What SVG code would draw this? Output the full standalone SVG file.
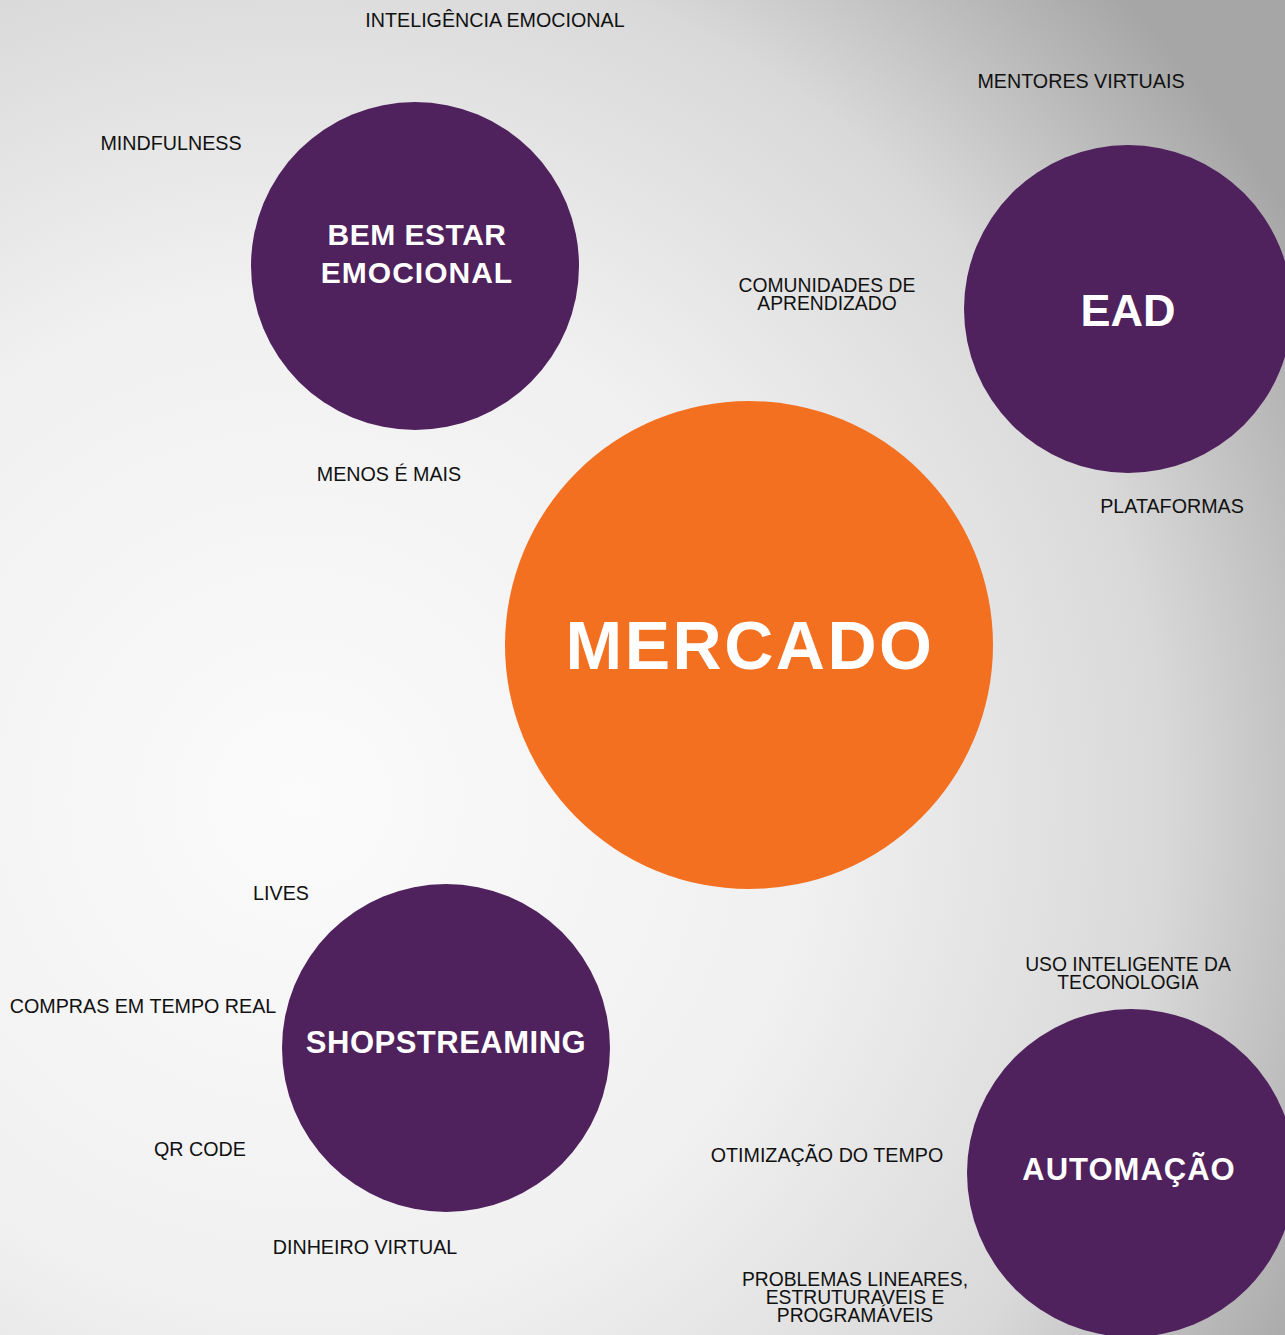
<svg xmlns="http://www.w3.org/2000/svg" width="1285" height="1335" viewBox="0 0 1285 1335">
<defs>
<radialGradient id="bg" gradientUnits="userSpaceOnUse" cx="300" cy="800" r="1150">
<stop offset="0" stop-color="#fbfbfb"/>
<stop offset="0.45" stop-color="#f0f0f0"/>
<stop offset="0.75" stop-color="#d9d9d9"/>
<stop offset="1" stop-color="#a6a6a6"/>
</radialGradient>
<style>
.hub{fill:#f47021}
.topic{fill:#4f215d}
.title{font-family:"Liberation Sans",Arial,sans-serif;font-weight:bold;fill:#ffffff;text-anchor:middle}
.lbl{font-family:"Liberation Sans",Arial,sans-serif;font-size:19.7px;fill:#111111;text-anchor:middle}
.lbl2{font-family:"Liberation Sans",Arial,sans-serif;font-size:19.3px;fill:#111111;text-anchor:middle}
</style>
</defs>
<rect width="1285" height="1335" fill="url(#bg)"/>
<g id="connectors"></g>
<g id="mercado">
<circle class="hub" cx="749" cy="645" r="244"/>
<text class="title" x="750" y="669" font-size="68" letter-spacing="2.5">MERCADO</text>
</g>
<g id="bem-estar">
<circle class="topic" cx="415" cy="266" r="164"/>
<text class="title" x="417" y="245" font-size="30" letter-spacing="0.5">BEM ESTAR</text>
<text class="title" x="417" y="283" font-size="30" letter-spacing="1">EMOCIONAL</text>
</g>
<g id="ead">
<circle class="topic" cx="1128" cy="309" r="164"/>
<text class="title" x="1128" y="326" font-size="45">EAD</text>
</g>
<g id="shopstreaming">
<circle class="topic" cx="446" cy="1048" r="164"/>
<text class="title" x="446" y="1053" font-size="31" letter-spacing="0.5">SHOPSTREAMING</text>
</g>
<g id="automacao">
<circle class="topic" cx="1131" cy="1173" r="164"/>
<text class="title" x="1129" y="1180" font-size="31" letter-spacing="1">AUTOMAÇÃO</text>
</g>
<g id="labels">
<text class="lbl" x="495" y="27">INTELIGÊNCIA EMOCIONAL</text>
<text class="lbl" x="1081" y="88">MENTORES VIRTUAIS</text>
<text class="lbl" x="171" y="150">MINDFULNESS</text>
<text class="lbl2" x="827" y="292">COMUNIDADES DE</text>
<text class="lbl2" x="827" y="310">APRENDIZADO</text>
<text class="lbl" x="389" y="481">MENOS É MAIS</text>
<text class="lbl" x="1172" y="513">PLATAFORMAS</text>
<text class="lbl" x="281" y="900">LIVES</text>
<text class="lbl" x="143" y="1013">COMPRAS EM TEMPO REAL</text>
<text class="lbl" x="200" y="1156">QR CODE</text>
<text class="lbl" x="365" y="1254">DINHEIRO VIRTUAL</text>
<text class="lbl2" x="1128" y="971">USO INTELIGENTE DA</text>
<text class="lbl2" x="1128" y="989">TECONOLOGIA</text>
<text class="lbl" x="827" y="1162">OTIMIZAÇÃO DO TEMPO</text>
<text class="lbl2" x="855" y="1286">PROBLEMAS LINEARES,</text>
<text class="lbl2" x="855" y="1304">ESTRUTURAVEIS E</text>
<text class="lbl2" x="855" y="1322">PROGRAMÁVEIS</text>
</g>
</svg>
